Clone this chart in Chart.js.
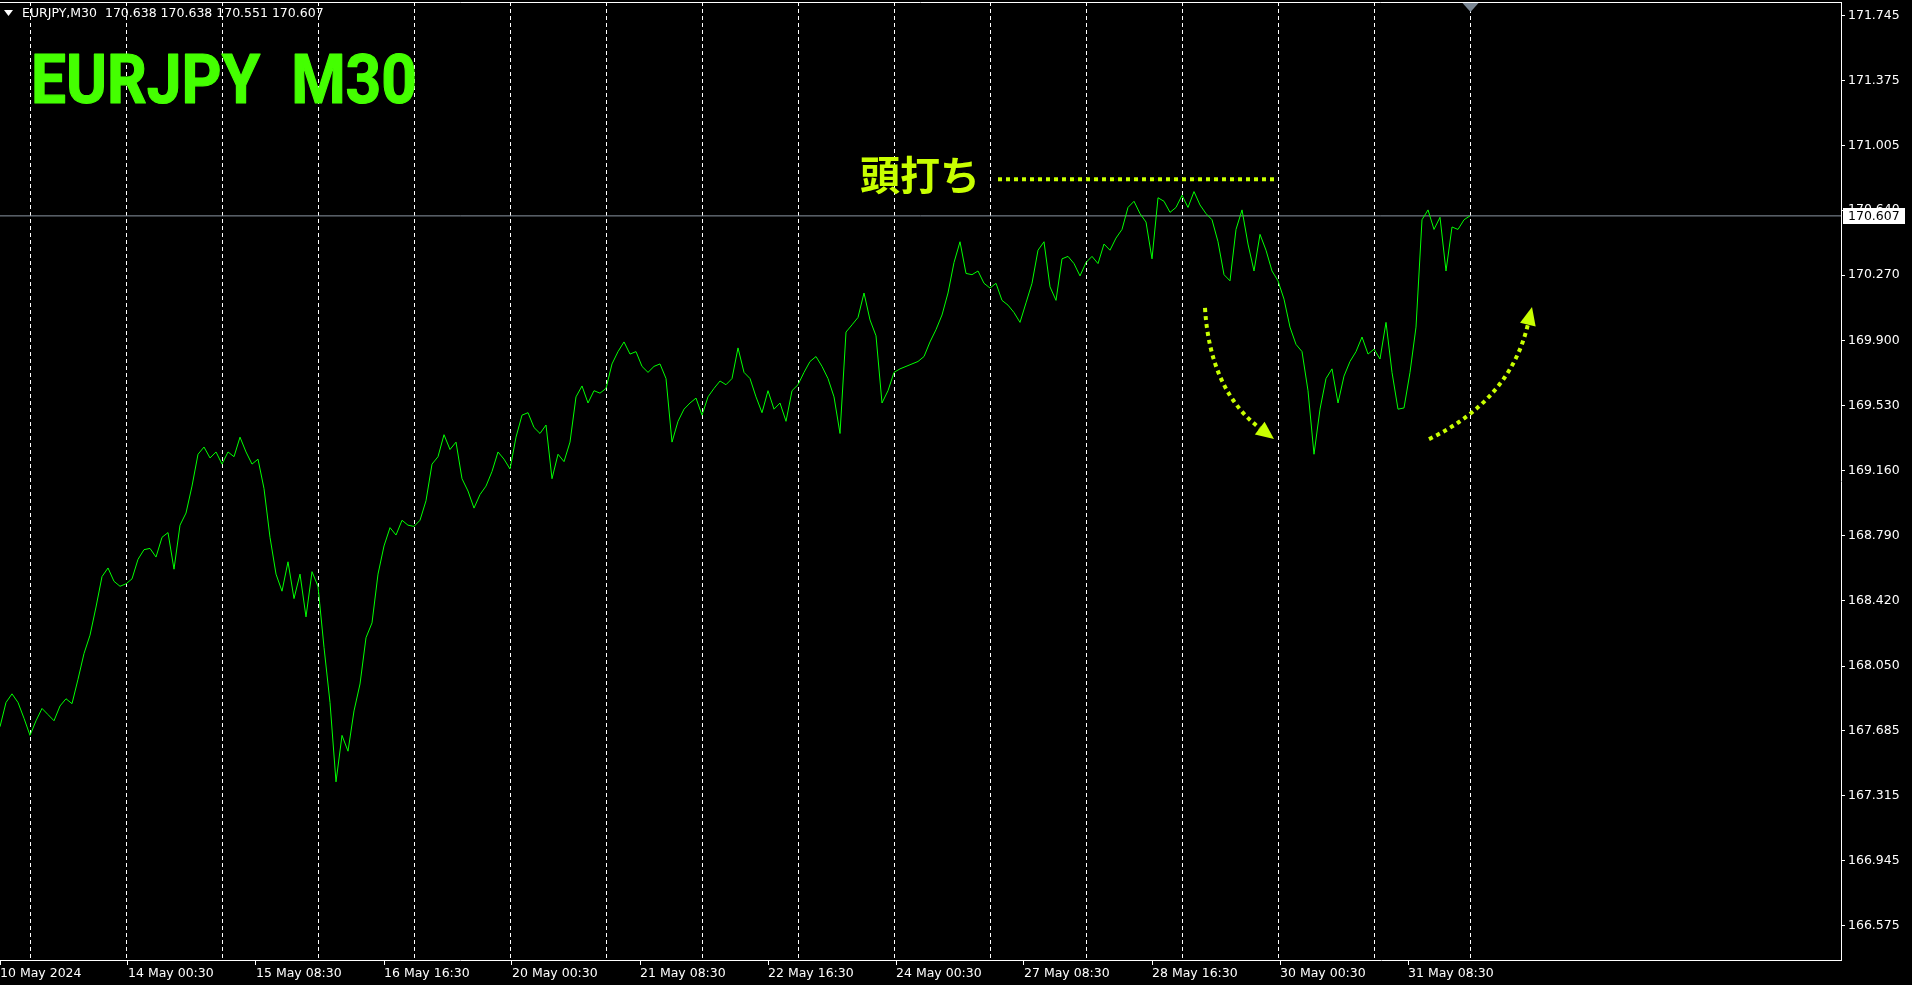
<!DOCTYPE html>
<html>
<head>
<meta charset="utf-8">
<script src="https://cdn.jsdelivr.net/npm/chart.js@4.4.1/dist/chart.umd.min.js"></script>
<style>
html, body { margin: 0; padding: 0; background: #000; overflow: hidden; }
#wrap { position: relative; width: 1912px; height: 985px; }
</style>
</head>
<body>
<div id="wrap"><canvas id="chart" width="1912" height="985"></canvas></div>
<script>
// EURJPY M30 close prices, one sample every 3 bars (bar 0 = 10 May 16:30)
const barStep = 3;
const prices = [
  167.705, 167.843, 167.892, 167.843, 167.753, 167.656, 167.739, 167.809, 167.774, 167.739,
  167.823, 167.864, 167.836, 167.975, 168.121, 168.225, 168.385, 168.558, 168.607, 168.531,
  168.503, 168.517, 168.545, 168.656, 168.711, 168.718, 168.669, 168.781, 168.808, 168.600,
  168.850, 168.919, 169.072, 169.253, 169.294, 169.232, 169.266, 169.197, 169.266, 169.239,
  169.350, 169.266, 169.197, 169.225, 169.058, 168.781, 168.572, 168.475, 168.642, 168.433,
  168.572, 168.329, 168.586, 168.503, 168.156, 167.843, 167.392, 167.656, 167.566, 167.795,
  167.948, 168.211, 168.295, 168.572, 168.732, 168.836, 168.794, 168.878, 168.850, 168.843,
  168.878, 168.989, 169.197, 169.239, 169.364, 169.280, 169.322, 169.114, 169.044, 168.947,
  169.024, 169.072, 169.155, 169.266, 169.225, 169.169, 169.350, 169.475, 169.489, 169.405,
  169.371, 169.419, 169.114, 169.253, 169.211, 169.322, 169.579, 169.641, 169.544, 169.614,
  169.600, 169.627, 169.766, 169.836, 169.891, 169.822, 169.836, 169.752, 169.718, 169.752,
  169.766, 169.683, 169.322, 169.440, 169.509, 169.544, 169.572, 169.475, 169.579, 169.627,
  169.669, 169.648, 169.683, 169.857, 169.718, 169.683, 169.579, 169.489, 169.614, 169.509,
  169.544, 169.440, 169.614, 169.648, 169.718, 169.780, 169.808, 169.752, 169.683, 169.579,
  169.371, 169.947, 169.988, 170.030, 170.169, 170.016, 169.926, 169.544, 169.614, 169.718,
  169.738, 169.752, 169.766, 169.780, 169.808, 169.891, 169.961, 170.044, 170.169, 170.342,
  170.460, 170.280, 170.273, 170.294, 170.224, 170.197, 170.224, 170.127, 170.100, 170.058,
  170.002, 170.113, 170.224, 170.412, 170.460, 170.204, 170.127, 170.363, 170.377, 170.336,
  170.266, 170.342, 170.377, 170.336, 170.447, 170.412, 170.481, 170.530, 170.655, 170.690,
  170.620, 170.572, 170.363, 170.710, 170.690, 170.627, 170.655, 170.724, 170.655, 170.745,
  170.669, 170.620, 170.585, 170.460, 170.273, 170.238, 170.530, 170.641, 170.447, 170.294,
  170.502, 170.412, 170.294, 170.238, 170.134, 169.975, 169.877, 169.836, 169.614, 169.253,
  169.509, 169.683, 169.738, 169.544, 169.697, 169.780, 169.836, 169.919, 169.822, 169.850,
  169.794, 170.002, 169.718, 169.509, 169.516, 169.718, 169.975, 170.585, 170.641, 170.530,
  170.599, 170.294, 170.544, 170.530, 170.585, 170.607
];

// bottom time labels and the bar they sit on
const timeLabels = ['10 May 2024', '14 May 00:30', '15 May 08:30', '16 May 16:30', '20 May 00:30', '21 May 08:30',
  '22 May 16:30', '24 May 00:30', '27 May 08:30', '28 May 16:30', '30 May 00:30', '31 May 08:30'];
const labelBars = [0, 64, 128, 192, 256, 320, 384, 448, 512, 576, 640, 704];

// day separators (00:00 of each trading day)
const dayBars = [15, 63, 111, 159, 207, 255, 303, 351, 399, 447, 495, 543, 591, 639, 687, 735];

// right price scale
const priceTicks = [166.575, 166.945, 167.315, 167.685, 168.050, 168.420, 168.790, 169.160,
  169.530, 169.900, 170.270, 170.640, 171.005, 171.375, 171.745];
const priceMin = 166.380;
const priceMax = 171.822;
const barMax = 920.5;

const header = 'EURJPY,M30  170.638 170.638 170.551 170.607';
const lastPrice = 170.607;
const shiftBar = 735;

// annotation: 頭打ち line and two arrows (bar, price)
const topLine = { fromBar: 499, toBar: 639, price: 170.815 };
const arrowDown = [[602.5, 170.084], [605, 169.618], [637, 169.339]];
const arrowUp = [[714.5, 169.339], [755, 169.561], [766, 170.089]];

const GREEN = '#00ff00';
const TITLE_GREEN = '#44ff00';
const NOTE = '#c8ff00';
const axisFont = { family: '"DejaVu Sans", sans-serif', size: 12.5 };

const series = prices.map((p, i) => ({ x: i * barStep, y: p }));

const overlay = {
  id: 'overlay',
  afterDraw(chart) {
    const ctx = chart.ctx;
    const xs = chart.scales.x, ys = chart.scales.y;
    const area = chart.chartArea;
    ctx.save();

    // top frame line
    ctx.strokeStyle = '#fff';
    ctx.lineWidth = 1;
    ctx.beginPath();
    ctx.moveTo(area.left, Math.round(area.top) + 0.5);
    ctx.lineTo(area.right, Math.round(area.top) + 0.5);
    ctx.stroke();

    // chart shift marker
    const sx = Math.round(xs.getPixelForValue(shiftBar)) + 0.5;
    ctx.fillStyle = '#7b8794';
    ctx.beginPath();
    ctx.moveTo(sx - 8, area.top + 1);
    ctx.lineTo(sx + 8, area.top + 1);
    ctx.lineTo(sx, area.top + 10);
    ctx.closePath();
    ctx.fill();

    // current price box
    const py = ys.getPixelForValue(lastPrice);
    ctx.fillStyle = '#fff';
    ctx.fillRect(area.right + 2, Math.round(py) - 8, 62, 16);
    ctx.fillStyle = '#000';
    ctx.font = '12.5px "DejaVu Sans", sans-serif';
    ctx.textBaseline = 'middle';
    ctx.textAlign = 'left';
    ctx.fillText(lastPrice.toFixed(3), area.right + 7, Math.round(py) + 1);

    // header
    ctx.fillStyle = '#fff';
    ctx.beginPath();
    ctx.moveTo(4, 10); ctx.lineTo(13, 10); ctx.lineTo(8.5, 16); ctx.closePath();
    ctx.fill();
    ctx.fillText(header, 22, 14);

    // big title, a touch heavier than plain bold
    ctx.font = 'bold 68px Roboto, "DejaVu Sans", sans-serif';
    ctx.textBaseline = 'alphabetic';
    const title = 'EURJPY  M30';
    const w = ctx.measureText(title).width;
    ctx.save();
    ctx.translate(31, 103);
    ctx.scale(386 / w, 1);
    ctx.fillStyle = TITLE_GREEN;
    ctx.strokeStyle = TITLE_GREEN;
    ctx.lineWidth = 1.2;
    ctx.lineJoin = 'round';
    ctx.fillText(title, 0, 0);
    ctx.strokeText(title, 0, 0);
    ctx.restore();

    // 頭打ち note
    ctx.fillStyle = NOTE;
    ctx.font = 'bold 40px "Noto Sans CJK JP", sans-serif';
    ctx.textAlign = 'right';
    ctx.textBaseline = 'middle';
    const ly = ys.getPixelForValue(topLine.price);
    ctx.fillText('頭打ち', xs.getPixelForValue(topLine.fromBar) - 18, ly - 4);

    ctx.strokeStyle = NOTE;
    ctx.lineWidth = 4;
    ctx.setLineDash([4, 4]);
    ctx.beginPath();
    ctx.moveTo(xs.getPixelForValue(topLine.fromBar), ly);
    ctx.lineTo(xs.getPixelForValue(topLine.toBar), ly);
    ctx.stroke();

    const drawArrow = (pts) => {
      const p = pts.map(([b, v]) => [xs.getPixelForValue(b), ys.getPixelForValue(v)]);
      const dx = p[2][0] - p[1][0], dy = p[2][1] - p[1][1];
      const len = Math.hypot(dx, dy);
      const ux = dx / len, uy = dy / len;
      const hl = 18, hw = 8;
      const bx = p[2][0] - ux * hl, by = p[2][1] - uy * hl;
      ctx.setLineDash([4, 4]);
      ctx.beginPath();
      ctx.moveTo(p[0][0], p[0][1]);
      ctx.quadraticCurveTo(p[1][0], p[1][1], bx, by);
      ctx.stroke();
      ctx.setLineDash([]);
      ctx.beginPath();
      ctx.moveTo(p[2][0], p[2][1]);
      ctx.lineTo(bx - uy * hw, by + ux * hw);
      ctx.lineTo(bx + uy * hw, by - ux * hw);
      ctx.closePath();
      ctx.fill();
    };
    drawArrow(arrowDown);
    drawArrow(arrowUp);

    ctx.restore();
  }
};

new Chart(document.getElementById('chart'), {
  type: 'line',
  data: {
    datasets: [
      {
        data: series,
        borderColor: GREEN,
        borderWidth: 1,
        pointRadius: 0,
        tension: 0,
        xAxisID: 'x'
      },
      {
        data: [{ x: 0, y: lastPrice }, { x: barMax, y: lastPrice }],
        borderColor: '#8b96a3',
        borderWidth: 1,
        pointRadius: 0,
        xAxisID: 'x'
      }
    ]
  },
  options: {
    responsive: false,
    animation: false,
    devicePixelRatio: 1,
    layout: { padding: { top: 2, left: 0, right: 0, bottom: 0 } },
    plugins: { legend: { display: false }, tooltip: { enabled: false } },
    scales: {
      x: {
        type: 'linear',
        position: 'bottom',
        min: 0,
        max: barMax,
        afterBuildTicks: (s) => { s.ticks = labelBars.map(v => ({ value: v })); },
        afterFit: (s) => { s.height = 25; s.paddingLeft = 0; s.paddingRight = 0; },
        ticks: {
          color: '#fff',
          font: axisFont,
          align: 'start',
          maxRotation: 0,
          autoSkip: false,
          padding: 1,
          callback: (v, i) => timeLabels[i]
        },
        grid: { drawOnChartArea: false, color: '#fff', tickLength: 5 },
        border: { color: '#fff' }
      },
      days: {
        type: 'linear',
        position: 'top',
        min: 0,
        max: barMax,
        afterBuildTicks: (s) => { s.ticks = dayBars.map(v => ({ value: v })); },
        afterFit: (s) => { s.height = 0; s.paddingLeft = 0; s.paddingRight = 0; },
        ticks: { display: false },
        grid: { color: '#fff', lineWidth: 1, drawTicks: false },
        border: { display: false, dash: [4, 3] }
      },
      y: {
        type: 'linear',
        position: 'right',
        min: priceMin,
        max: priceMax,
        afterBuildTicks: (s) => { s.ticks = priceTicks.map(v => ({ value: v })); },
        afterFit: (s) => { s.width = 71; s.paddingTop = 0; s.paddingBottom = 0; },
        ticks: {
          color: '#fff',
          font: axisFont,
          padding: 3,
          callback: (v) => v.toFixed(3)
        },
        grid: { drawOnChartArea: false, color: '#fff', tickLength: 4 },
        border: { color: '#fff' }
      }
    }
  },
  plugins: [overlay]
});
</script>
</body>
</html>
